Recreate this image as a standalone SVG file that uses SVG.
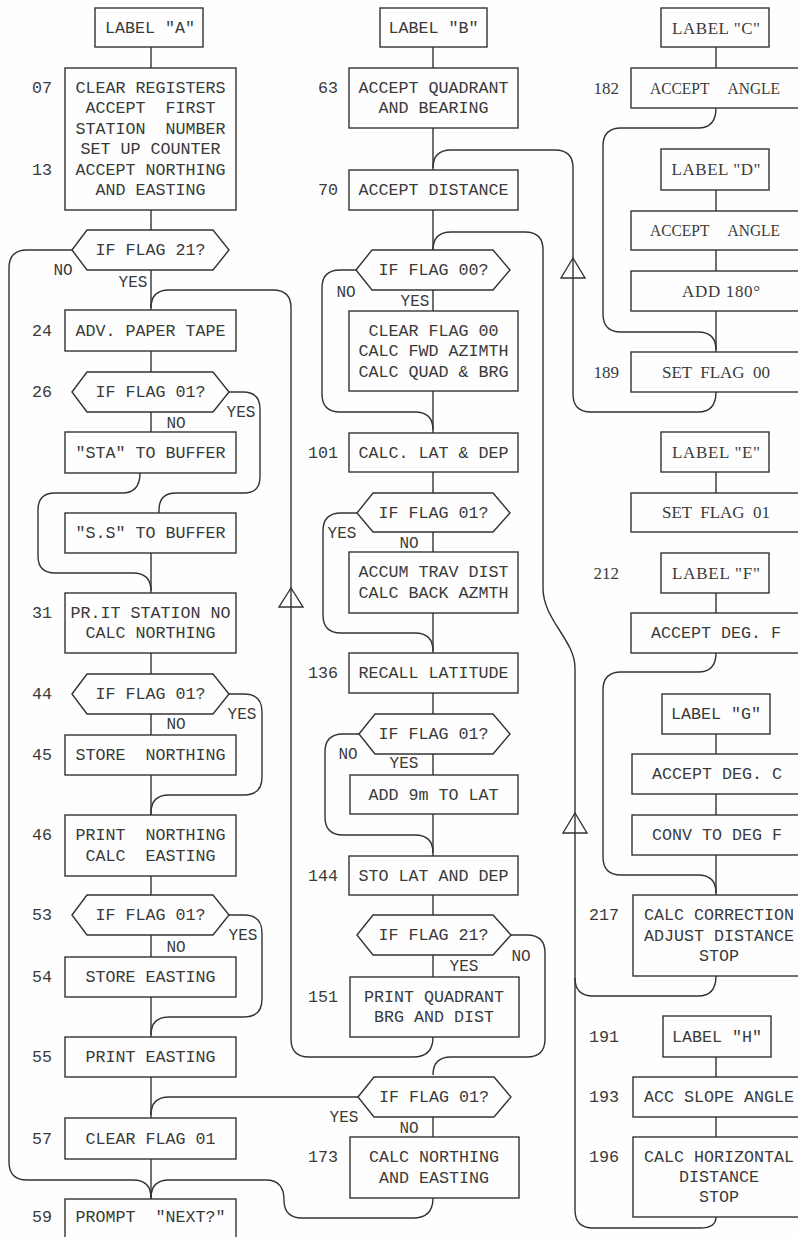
<svg xmlns="http://www.w3.org/2000/svg" width="798" height="1237" viewBox="0 0 798 1237" xml:space="preserve">
<style>
.bg{fill:#fefefe}
.b{fill:#fefefe;stroke:#333;stroke-width:1.4}
.c{fill:none;stroke:#333;stroke-width:1.4}
.a{fill:none;stroke:#333;stroke-width:1.4;stroke-linejoin:miter}
.t{font-family:"Liberation Mono","DejaVu Sans Mono",monospace;font-size:16.7px;fill:#3a3a3a;text-anchor:middle;white-space:pre}
.y{font-family:"Liberation Mono","DejaVu Sans Mono",monospace;font-size:16px;fill:#3a3a3a;text-anchor:middle}
.n{font-family:"Liberation Mono","DejaVu Sans Mono",monospace;font-size:16.7px;fill:#3a3a3a;text-anchor:end}
.s{font-family:"Liberation Serif","DejaVu Serif",serif;font-size:17px;fill:#3a3a3a;text-anchor:middle;white-space:pre}
.sn{font-family:"Liberation Serif","DejaVu Serif",serif;font-size:17px;fill:#3a3a3a;text-anchor:end}
</style>
<rect class="bg" x="0" y="0" width="798" height="1237"/>

<g id="connectors">
<path class="c" d="M151 47 V68"/>
<path class="c" d="M151 210 V230"/>
<path class="c" d="M151 270 V310"/>
<path class="c" d="M72 250 H27 Q9 250 9 268 V1162 Q9 1180 27 1180 H133 Q151 1180 151 1198"/>
<path class="c" d="M151 351 V372"/>
<path class="c" d="M151 412 V432"/>
<path class="c" d="M229 392 H243 Q260 392 260 409 V477 Q260 493 244 493 H176 Q159 493 159 510 V513"/>
<path class="c" d="M140 473 Q140 493 122 493 H55 Q38 493 38 510 V556 Q38 573 55 573 H133 Q151 573 151 591"/>
<path class="c" d="M151 553 V593"/>
<path class="c" d="M151 653 V674"/>
<path class="c" d="M151 714 V735"/>
<path class="c" d="M229 694 H244 Q262 694 262 712 V777 Q262 795 244 795 H169 Q151 795 151 813 V815"/>
<path class="c" d="M151 775 V815"/>
<path class="c" d="M151 876 V895"/>
<path class="c" d="M151 935 V957"/>
<path class="c" d="M229 915 H244 Q262 915 262 933 V999 Q262 1017 244 1017 H169 Q151 1017 151 1035"/>
<path class="c" d="M151 997 V1037"/>
<path class="c" d="M151 1077 V1118"/>
<path class="c" d="M358 1097 H169 Q151 1097 151 1115"/>
<path class="c" d="M151 1159 V1199"/>
<path class="c" d="M433 1198 Q433 1218 413 1218 H302 Q284 1218 284 1200 Q284 1180 266 1180 H169 Q151 1180 151 1198"/>
<path class="c" d="M433 1037 Q433 1057 413 1057 H309 Q291 1057 291 1039 V308 Q291 290 273 290 H169 Q151 290 151 308"/>
<polygon class="a" points="291,588 279,607 303,607"/>

<path class="c" d="M433 47 V68"/>
<path class="c" d="M433 128 V170"/>
<path class="c" d="M716 392 Q716 412 698 412 H591 Q573 412 573 394 V168 Q573 150 555 150 H451 Q433 150 433 168"/>
<polygon class="a" points="573,258 561,278 585,278"/>
<path class="c" d="M433 210 V250"/>
<path class="c" d="M716 1217 Q716 1228 700 1228 H593 Q575 1228 575 1210 V668 C575 640 543 620 543 588 V250 Q543 232 525 232 H451 Q433 232 433 250"/>
<polygon class="a" points="575,813 563,833 587,833"/>
<path class="c" d="M716 976 Q716 996 698 996 H593 Q575 996 575 978"/>
<path class="c" d="M433 290 V311"/>
<path class="c" d="M356 270 H340 Q322 270 322 288 V394 Q322 412 340 412 H415 Q433 412 433 430"/>
<path class="c" d="M433 391 V433"/>
<path class="c" d="M433 472 V493"/>
<path class="c" d="M433 532 V552"/>
<path class="c" d="M357 513 H341 Q323 513 323 531 V615 Q323 633 341 633 H415 Q433 633 433 651"/>
<path class="c" d="M433 613 V653"/>
<path class="c" d="M433 693 V714"/>
<path class="c" d="M433 754 V775"/>
<path class="c" d="M359 734 H343 Q325 734 325 752 V817 Q325 835 343 835 H415 Q433 835 433 853"/>
<path class="c" d="M433 814 V856"/>
<path class="c" d="M433 895 V915"/>
<path class="c" d="M433 955 V977"/>
<path class="c" d="M511 935 H527 Q545 935 545 953 V1039 Q545 1057 527 1057 H451 Q433 1057 433 1075"/>
<path class="c" d="M433 1117 V1137"/>

<path class="c" d="M716 47 V68"/>
<path class="c" d="M716 108 Q716 128 698 128 H621 Q603 128 603 146 V314 Q603 332 621 332 H698 Q716 332 716 350"/>
<path class="c" d="M716 190 V211"/>
<path class="c" d="M716 250 V271"/>
<path class="c" d="M716 311 V352"/>
<path class="c" d="M716 472 V493"/>
<path class="c" d="M716 593 V613"/>
<path class="c" d="M716 653 Q716 672 698 672 H621 Q603 672 603 690 V857 Q603 875 621 875 H698 Q716 875 716 893"/>
<path class="c" d="M716 734 V754"/>
<path class="c" d="M716 794 V815"/>
<path class="c" d="M716 855 V895"/>
<path class="c" d="M716 1057 V1077"/>
<path class="c" d="M716 1117 V1137"/>
</g>

<g id="labelA"><rect class="b" x="95" y="8" width="108" height="39"/><text class="t" x="150" y="33">LABEL "A"</text></g>
<g id="n07"><rect class="b" x="65" y="68" width="171" height="142"/>
<text class="n" x="52" y="93">07</text><text class="n" x="52" y="175">13</text>
<text class="t" x="150.5" y="93">CLEAR REGISTERS</text>
<text class="t" x="150.5" y="113">ACCEPT  FIRST</text>
<text class="t" x="150.5" y="134">STATION  NUMBER</text>
<text class="t" x="150.5" y="154">SET UP COUNTER</text>
<text class="t" x="150.5" y="175">ACCEPT NORTHING</text>
<text class="t" x="150.5" y="195">AND EASTING</text></g>
<g id="ifFlag21a"><polygon class="b" points="72,250 87,230 213,230 229,250 213,270 87,270"/><text class="t" x="150.5" y="255">IF FLAG 21?</text>
<text class="y" x="63" y="275">NO</text><text class="y" x="133" y="287">YES</text></g>
<g id="n24"><rect class="b" x="65" y="310" width="171" height="41"/><text class="n" x="52" y="336">24</text><text class="t" x="150.5" y="336">ADV. PAPER TAPE</text></g>
<g id="n26"><polygon class="b" points="72,392 87,372 213,372 229,392 213,412 87,412"/><text class="t" x="150.5" y="397">IF FLAG 01?</text><text class="n" x="52" y="397">26</text>
<text class="y" x="176" y="428">NO</text><text class="y" x="241" y="417">YES</text></g>
<g id="nSTA"><rect class="b" x="65" y="432" width="171" height="41"/><text class="t" x="150.5" y="458">"STA" TO BUFFER</text></g>
<g id="nSS"><rect class="b" x="65" y="513" width="171" height="40"/><text class="t" x="150.5" y="538">"S.S" TO BUFFER</text></g>
<g id="n31"><rect class="b" x="65" y="593" width="171" height="60"/><text class="n" x="52" y="618">31</text>
<text class="t" x="150.5" y="618">PR.IT STATION NO</text><text class="t" x="150.5" y="638">CALC NORTHING</text></g>
<g id="n44"><polygon class="b" points="72,694 87,674 213,674 229,694 213,714 87,714"/><text class="t" x="150.5" y="699">IF FLAG 01?</text><text class="n" x="52" y="699">44</text>
<text class="y" x="176" y="729">NO</text><text class="y" x="242" y="719">YES</text></g>
<g id="n45"><rect class="b" x="65" y="735" width="171" height="40"/><text class="n" x="52" y="760">45</text><text class="t" x="150.5" y="760">STORE  NORTHING</text></g>
<g id="n46"><rect class="b" x="65" y="815" width="171" height="61"/><text class="n" x="52" y="840">46</text>
<text class="t" x="150.5" y="840">PRINT  NORTHING</text><text class="t" x="150.5" y="861">CALC  EASTING</text></g>
<g id="n53"><polygon class="b" points="72,915 87,895 213,895 229,915 213,935 87,935"/><text class="t" x="150.5" y="920">IF FLAG 01?</text><text class="n" x="52" y="920">53</text>
<text class="y" x="176" y="952">NO</text><text class="y" x="243" y="940">YES</text></g>
<g id="n54"><rect class="b" x="65" y="957" width="171" height="40"/><text class="n" x="52" y="982">54</text><text class="t" x="150.5" y="982">STORE EASTING</text></g>
<g id="n55"><rect class="b" x="65" y="1037" width="171" height="40"/><text class="n" x="52" y="1062">55</text><text class="t" x="150.5" y="1062">PRINT EASTING</text></g>
<g id="n57"><rect class="b" x="65" y="1118" width="171" height="41"/><text class="n" x="52" y="1144">57</text><text class="t" x="150.5" y="1144">CLEAR FLAG 01</text></g>
<g id="n59"><rect class="b" x="65" y="1199" width="171" height="45"/><text class="n" x="52" y="1222">59</text><text class="t" x="150.5" y="1222">PROMPT  "NEXT?"</text></g>

<g id="labelB"><rect class="b" x="380" y="8" width="107" height="39"/><text class="t" x="433.5" y="33">LABEL "B"</text></g>
<g id="n63"><rect class="b" x="349" y="68" width="169" height="60"/><text class="n" x="338" y="93">63</text>
<text class="t" x="433.5" y="93">ACCEPT QUADRANT</text><text class="t" x="433.5" y="113">AND BEARING</text></g>
<g id="n70"><rect class="b" x="349" y="170" width="169" height="40"/><text class="n" x="338" y="195">70</text><text class="t" x="433.5" y="195">ACCEPT DISTANCE</text></g>
<g id="ifFlag00"><polygon class="b" points="356,270 372,250 493,250 510,270 493,290 372,290"/><text class="t" x="433.5" y="275">IF FLAG 00?</text>
<text class="y" x="346" y="297">NO</text><text class="y" x="415" y="306">YES</text></g>
<g id="nClr"><rect class="b" x="349" y="311" width="169" height="80"/>
<text class="t" x="433.5" y="336">CLEAR FLAG 00</text><text class="t" x="433.5" y="356">CALC FWD AZIMTH</text><text class="t" x="433.5" y="377">CALC QUAD &amp; BRG</text></g>
<g id="n101"><rect class="b" x="349" y="433" width="169" height="39"/><text class="n" x="338" y="458">101</text><text class="t" x="433.5" y="458">CALC. LAT &amp; DEP</text></g>
<g id="ifFlag01b"><polygon class="b" points="357,513 373,493 493,493 510,513 493,532 373,532"/><text class="t" x="433.5" y="518">IF FLAG 01?</text>
<text class="y" x="342" y="538">YES</text><text class="y" x="409" y="548">NO</text></g>
<g id="nAccum"><rect class="b" x="349" y="552" width="169" height="61"/>
<text class="t" x="433.5" y="577">ACCUM TRAV DIST</text><text class="t" x="433.5" y="598">CALC BACK AZMTH</text></g>
<g id="n136"><rect class="b" x="349" y="653" width="169" height="40"/><text class="n" x="338" y="678">136</text><text class="t" x="433.5" y="678">RECALL LATITUDE</text></g>
<g id="ifFlag01c"><polygon class="b" points="359,734 375,714 493,714 510,734 493,754 375,754"/><text class="t" x="433.5" y="739">IF FLAG 01?</text>
<text class="y" x="348" y="759">NO</text><text class="y" x="404" y="768">YES</text></g>
<g id="n9m"><rect class="b" x="350" y="775" width="168" height="39"/><text class="t" x="433.5" y="800">ADD 9m TO LAT</text></g>
<g id="n144"><rect class="b" x="349" y="856" width="169" height="39"/><text class="n" x="338" y="881">144</text><text class="t" x="433.5" y="881">STO LAT AND DEP</text></g>
<g id="ifFlag21b"><polygon class="b" points="357,935 373,915 493,915 511,935 493,955 373,955"/><text class="t" x="433.5" y="940">IF FLAG 21?</text>
<text class="y" x="464" y="971">YES</text><text class="y" x="521" y="961">NO</text></g>
<g id="n151"><rect class="b" x="350" y="977" width="169" height="60"/><text class="n" x="338" y="1002">151</text>
<text class="t" x="434" y="1002">PRINT QUADRANT</text><text class="t" x="434" y="1022">BRG AND DIST</text></g>
<g id="ifFlag01d"><polygon class="b" points="358,1097 374,1077 494,1077 511,1097 494,1117 374,1117"/><text class="t" x="434" y="1102">IF FLAG 01?</text>
<text class="y" x="344" y="1122">YES</text><text class="y" x="409" y="1133">NO</text></g>
<g id="n173"><rect class="b" x="350" y="1137" width="169" height="61"/><text class="n" x="338" y="1162">173</text>
<text class="t" x="434" y="1162">CALC NORTHING</text><text class="t" x="434" y="1183">AND EASTING</text></g>

<g id="labelC"><rect class="b" x="661" y="8" width="108" height="39"/><text class="s" x="716" y="34" textLength="88">LABEL "C"</text></g>
<g id="n182"><rect class="b" x="631" y="68" width="172" height="40"/><text class="sn" x="619" y="94">182</text><text class="s" x="715" y="94" textLength="130" lengthAdjust="spacingAndGlyphs">ACCEPT     ANGLE</text></g>
<g id="labelD"><rect class="b" x="661" y="149" width="108" height="41"/><text class="s" x="716" y="175" textLength="89">LABEL "D"</text></g>
<g id="nAngle"><rect class="b" x="631" y="211" width="172" height="39"/><text class="s" x="715" y="236" textLength="130" lengthAdjust="spacingAndGlyphs">ACCEPT     ANGLE</text></g>
<g id="n180"><rect class="b" x="631" y="271" width="172" height="40"/><text class="s" x="721" y="297" textLength="78">ADD 180°</text></g>
<g id="n189"><rect class="b" x="631" y="352" width="172" height="40"/><text class="sn" x="619" y="378">189</text><text class="s" x="716" y="378" textLength="108">SET  FLAG  00</text></g>
<g id="labelE"><rect class="b" x="661" y="432" width="108" height="40"/><text class="s" x="716" y="458" textLength="88">LABEL "E"</text></g>
<g id="nSetFlag01"><rect class="b" x="631" y="493" width="172" height="39"/><text class="s" x="716" y="518" textLength="108">SET  FLAG  01</text></g>
<g id="labelF"><rect class="b" x="661" y="553" width="108" height="40"/><text class="sn" x="619" y="579">212</text><text class="s" x="716" y="579" textLength="88">LABEL "F"</text></g>
<g id="nDegF"><rect class="b" x="631" y="613" width="172" height="40"/><text class="t" x="716" y="638">ACCEPT DEG. F</text></g>
<g id="labelG"><rect class="b" x="662" y="694" width="108" height="40"/><text class="t" x="716" y="719">LABEL "G"</text></g>
<g id="nDegC"><rect class="b" x="632" y="754" width="172" height="40"/><text class="t" x="717" y="779">ACCEPT DEG. C</text></g>
<g id="nConv"><rect class="b" x="632" y="815" width="172" height="40"/><text class="t" x="717" y="840">CONV TO DEG F</text></g>
<g id="n217"><rect class="b" x="633" y="895" width="172" height="81"/><text class="n" x="619" y="920">217</text>
<text class="t" x="719" y="920">CALC CORRECTION</text><text class="t" x="719" y="941">ADJUST DISTANCE</text><text class="t" x="719" y="961">STOP</text></g>
<g id="labelH"><rect class="b" x="663" y="1016" width="108" height="41"/><text class="n" x="619" y="1042">191</text><text class="t" x="717" y="1042">LABEL "H"</text></g>
<g id="n193"><rect class="b" x="633" y="1077" width="172" height="40"/><text class="n" x="619" y="1102">193</text><text class="t" x="719" y="1102">ACC SLOPE ANGLE</text></g>
<g id="n196"><rect class="b" x="633" y="1137" width="172" height="80"/><text class="n" x="619" y="1162">196</text>
<text class="t" x="719" y="1162">CALC HORIZONTAL</text><text class="t" x="719" y="1182">DISTANCE</text><text class="t" x="719" y="1202">STOP</text></g>
</svg>
